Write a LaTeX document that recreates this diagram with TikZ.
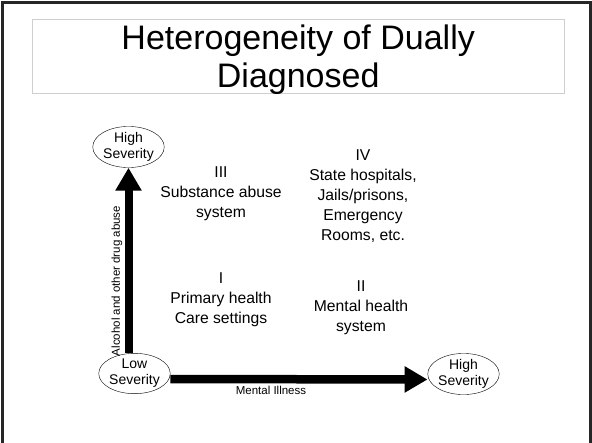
\documentclass[tikz,border=0pt]{standalone}
\usepackage{fontspec}
\setmainfont{Liberation Sans}
\usetikzlibrary{arrows.meta}
\usetikzlibrary{shapes.geometric}
\tikzset{sev/.style = {draw, ellipse, inner sep = 0, minimum width = 65pt, minimum height = 33pt,
                       align = center, font = \fontsize{14}{16}\selectfont}}
\tikzset{quad/.style = {align = center, font = \fontsize{15.7}{20}\selectfont}}
\tikzset{small/.style = {font = \fontsize{11.5}{13}\selectfont}}
\tikzset{axis/.style = {-{Triangle[length = 23pt, width = 25pt]}}}

\begin{document}
\begin{tikzpicture}[x = 1pt, y = -1pt]
    \useasboundingbox (0, 0) rectangle (592, 442);
    \clip (0, 0) rectangle (592, 442);
    \draw [line width = 3pt, black!85] (2.5, 460) -- (2.5, 2.5) -- (590.5, 2.5) -- (590.5, 460);

    \node [draw = black!19, minimum width = 531.7pt, minimum height = 73.4pt, inner sep = 0] (titlebox) at (298.2, 56) {};
    \node [align = center, font = \fontsize{34}{38}\selectfont] (title) at (298.2, 59.5) {Heterogeneity of Dually\\Diagnosed};

    \node [sev] (alcHigh) at (128.5, 147) {High\\Severity};
    \node [sev] (low) at (134.5, 373.5) {Low\\Severity};
    \node [sev] (miHigh) at (463.5, 374) {High\\Severity};

    \draw [axis, line width = 8pt] (alcHigh.south |- low.north) -- (alcHigh.south);
    \draw [axis, line width = 8.5pt] ([yshift = -5.5pt] low.east) -- ([yshift = -5.5pt] miHigh.west);

    \node [small, rotate = 90] (alc) at (117, 281) {Alcohol and other drug abuse};
    \node [small] (mi) at (271, 390.5) {Mental Illness};

    \node [quad] (q3) at (221, 193.5) {III\\Substance abuse\\system};
    \node [quad] (q4) at (363, 196) {IV\\State hospitals,\\Jails/prisons,\\Emergency\\Rooms, etc.};
    \node [quad] (q1) at (221, 300) {I\\Primary health\\Care settings};
    \node [quad] (q2) at (361, 307.5) {II\\Mental health\\system};
\end{tikzpicture}
\end{document}
